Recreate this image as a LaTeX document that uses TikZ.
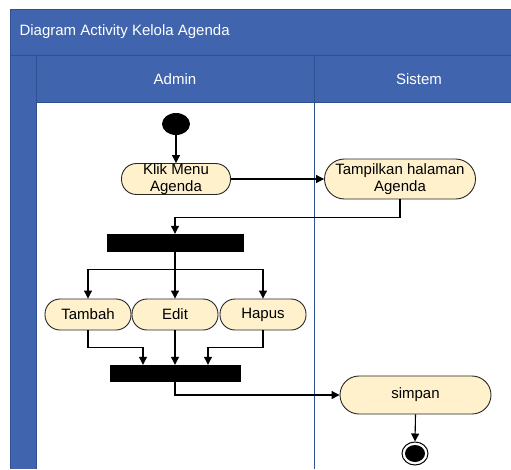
\documentclass[tikz,border=0pt]{standalone}
\usepackage{fontspec}
\setmainfont{Liberation Sans}
\usetikzlibrary{arrows.meta,shapes.geometric}
\definecolor{laneblue}{HTML}{4065AE}
\definecolor{laneedge}{HTML}{2E5192}
\definecolor{actfill}{HTML}{FEF1CC}

\begin{document}
\begin{tikzpicture}[x=1pt,y=-1pt,
  every node/.style={font=\fontsize{15}{17}\selectfont},
  act/.style={draw=black!85, fill=actfill, line width=0.9pt, inner sep=0pt,
    align=center, rounded corners=#1},
  bar/.style={fill=black, draw=black, inner sep=0pt},
  flow/.style={line width=1.1pt, -{Triangle[length=8pt,width=8pt]}},
  link/.style={line width=1.1pt},
  hdr/.style={text=white}
]
\useasboundingbox (0,0) rectangle (511,469);

% swimlane frame
\fill[laneblue] (10,9) rectangle (511,102);
\fill[laneblue] (10,102) rectangle (36,469);
\fill[white] (36,102) rectangle (511,469);
\draw[laneedge, line width=0.8pt] (10,469) -- (10,9) -- (511,9);
\draw[laneedge, line width=0.8pt] (10,55) -- (511,55);
\draw[laneedge, line width=0.8pt] (36,55) -- (36,469);
\draw[laneedge, line width=0.8pt] (36,102) -- (511,102);
\draw[laneedge, line width=0.8pt] (314,55) -- (314,469);

% headers
\node[hdr, anchor=west] (title) at (16,32) {Diagram Activity Kelola Agenda};
\node[hdr] (admin) at (175,79) {Admin};
\node[hdr] (sistem) at (419,79) {Sistem};

% activity nodes
\node[ellipse, fill=black, inner sep=0pt, minimum width=28pt, minimum height=22pt] (start) at (176,124) {};
\node[act=15pt, minimum width=109pt, minimum height=30pt] (klik) at (176,179) {Klik Menu\\Agenda};
\node[act=20pt, minimum width=151pt, minimum height=40pt] (tampil) at (400,179) {Tampilkan halaman\\Agenda};
\node[bar, minimum width=136pt, minimum height=17pt] (fork) at (175,242.5) {};
\node[act=15pt, minimum width=86pt, minimum height=31pt] (tambah) at (88,314.5) {Tambah};
\node[act=15pt, minimum width=86pt, minimum height=31pt] (edit) at (175,314.5) {Edit};
\node[act=15pt, minimum width=86pt, minimum height=31pt] (hapus) at (263,314.5) {Hapus};
\node[bar, minimum width=130pt, minimum height=16pt] (join) at (175,373) {};
\node[act=19pt, minimum width=151pt, minimum height=38pt] (simpan) at (415.5,395) {simpan};
\node[ellipse, draw=black, line width=1pt, fill=white, inner sep=0pt, minimum width=26pt, minimum height=23pt] (final) at (415,453.5) {};
\node[ellipse, fill=black, inner sep=0pt, minimum width=20pt, minimum height=17pt] (finaldot) at (final.center) {};

% control flow
\draw[flow] (start.south) -- (klik.north);
\draw[flow] (klik.east) -- (tampil.west);
\draw[flow] (tampil.south) -- ++(0,18) -| (fork.north);
\draw[link] (fork.south) -- ++(0,18) coordinate (split);
\draw[flow] (split) -| (tambah.north);
\draw[flow] (split) -- (edit.north);
\draw[flow] (split) -| (hapus.north);
\draw[flow] (tambah.south) -- ++(0,17) -| ([xshift=-32pt]join.north);
\draw[flow] (edit.south) -- (join.north);
\draw[flow] (hapus.south) -- ++(0,17) -| ([xshift=33pt]join.north);
\draw[flow] (join.south) |- (simpan.west);
\draw[flow] (simpan.south) -- (final.north);
\end{tikzpicture}
\end{document}
